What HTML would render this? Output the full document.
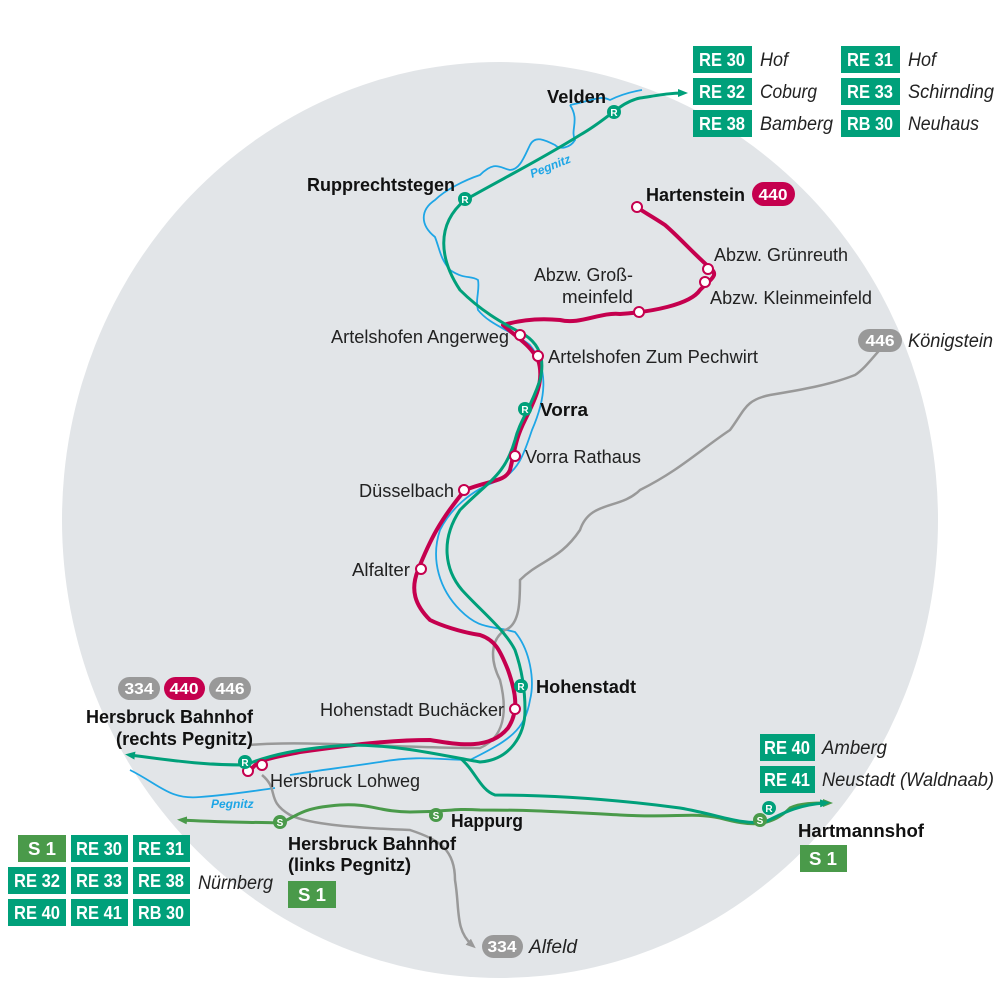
<!DOCTYPE html>
<html><head><meta charset="utf-8"><style>
html,body{margin:0;padding:0;background:#fff;}
svg{display:block;font-family:"Liberation Sans",sans-serif;}
.b{font-weight:bold;font-size:18px;fill:#111;}
.n{font-size:18px;fill:#222;}
.i{font-style:italic;font-size:19px;fill:#222;}
.bx{font-weight:bold;font-size:18px;fill:#fff;}
</style></head><body>
<svg width="1000" height="1000" viewBox="0 0 1000 1000">
<defs>
<marker id="at" markerWidth="10" markerHeight="8" refX="5" refY="4" orient="auto" markerUnits="userSpaceOnUse"><path d="M0,0 L10,4 L0,8z" fill="#00a07a"/></marker>
<marker id="ag" markerWidth="10" markerHeight="8" refX="5" refY="4" orient="auto" markerUnits="userSpaceOnUse"><path d="M0,0 L10,4 L0,8z" fill="#999"/></marker>
<marker id="as" markerWidth="10" markerHeight="8" refX="5" refY="4" orient="auto" markerUnits="userSpaceOnUse"><path d="M0,0 L10,4 L0,8z" fill="#4a9a4a"/></marker>
</defs>
<ellipse cx="500" cy="520" rx="438" ry="458" fill="#e2e5e8"/>
<!-- river -->
<g fill="none" stroke="#1ea6e6" stroke-width="1.8">
<path d="M570,105 C580,120 570,130 575,140 C570,148 560,150 555,145 C545,140 535,135 530,145 C525,155 520,170 510,170 C500,168 495,160 480,175 C465,180 445,190 435,200 C420,210 420,225 435,237 C440,250 440,258 450,270 C465,280 470,275 478,280 C480,290 475,300 478,310 C490,325 510,330 530,345 C550,370 545,400 532,430 C525,450 520,470 500,480 C470,490 450,510 440,530 C430,560 440,590 460,610 C480,630 490,625 515,632 C530,650 535,680 530,700 C525,730 510,740 470,760 C440,760 420,755 380,762 C340,768 320,770 290,775"/>
<path d="M130,770 C160,785 170,800 200,797 C230,795 260,790 275,788"/>
<path d="M570,105 C595,100 600,95 610,100 C620,95 630,92 642,90"/>
</g>
<!-- grey 446 and 334 -->
<g fill="none" stroke="#999" stroke-width="2.5">
<path d="M250,745 C300,740 400,748 480,748 C510,735 505,700 500,680 C490,660 490,640 505,630 C520,625 520,600 520,580 C540,560 560,560 580,530 C590,500 620,510 640,490 C680,470 700,450 730,430 C745,410 745,400 770,395 C800,390 830,385 855,375 C870,365 880,345 895,337" marker-end="url(#ag)"/>
<path d="M262,775 C280,790 265,800 290,815 C310,825 360,828 410,830 C440,840 455,850 455,880 C460,910 455,930 472,945" marker-end="url(#ag)"/>
</g>
<!-- S-Bahn -->
<path d="M280,823 C240,822 210,822 182,820" fill="none" stroke="#4a9a4a" stroke-width="3" marker-end="url(#as)"/>
<path d="M280,823 C300,815 300,808 340,805 C370,803 380,812 410,812 C450,812 450,808 480,810 C540,810 560,812 620,815 C680,818 690,812 720,818 C750,826 770,828 790,808 C800,803 815,803 828,803" fill="none" stroke="#4a9a4a" stroke-width="3" marker-end="url(#as)"/>
<!-- crimson -->
<g fill="none" stroke="#c5004e" stroke-width="4" stroke-linejoin="round">
<path d="M250,772 C255,760 270,758 300,752 C350,745 390,740 430,740 C460,745 490,750 508,728 C520,710 515,690 508,670 C500,650 495,640 480,635 C460,632 440,625 430,620 C415,605 410,590 418,570 C430,540 440,520 465,490 C490,480 505,482 510,470 C515,450 515,440 525,420 C535,400 545,380 538,360 C530,345 520,340 503,325 C520,320 540,318 560,320 C580,325 600,312 620,314 C650,312 690,305 700,290 C710,280 720,275 710,268 C690,250 680,238 665,225 C650,215 640,210 637,207"/>
</g>
<!-- teal -->
<g fill="none" stroke="#00a07a" stroke-width="3">
<path d="M245,765 C200,765 170,760 130,755" marker-end="url(#at)"/>
<path d="M245,765 C270,755 300,748 350,745 C400,745 440,755 480,762 C510,760 525,735 525,710 C525,690 522,670 515,650 C505,630 480,610 462,590 C445,570 440,540 460,510 C490,480 505,475 515,440 C520,420 530,410 540,380 C545,360 540,345 525,335 C500,322 480,310 460,290 C440,260 435,225 465,200 C500,180 540,160 580,135 C610,118 620,102 640,98 C660,95 670,93 683,93" marker-end="url(#at)"/>
<path d="M460,758 C475,770 480,790 495,795 C560,795 620,800 680,808 C720,815 740,825 765,822 C780,815 795,805 825,803" marker-end="url(#at)"/>
</g>
<!-- stops -->
<g fill="#fff" stroke="#c5004e" stroke-width="2">
<circle cx="637" cy="207" r="5"/><circle cx="708" cy="269" r="5"/><circle cx="705" cy="282" r="5"/>
<circle cx="639" cy="312" r="5"/><circle cx="538" cy="356" r="5"/><circle cx="515" cy="456" r="5"/>
<circle cx="464" cy="490" r="5"/><circle cx="421" cy="569" r="5"/><circle cx="515" cy="709" r="5"/>
<circle cx="262" cy="765" r="5"/><circle cx="248" cy="771" r="5"/><circle cx="520" cy="335" r="5"/>
</g>
<g font-weight="bold" font-size="10" text-anchor="middle">
<g fill="#00a07a"><circle cx="614" cy="112" r="7"/><circle cx="465" cy="199" r="7"/><circle cx="525" cy="409" r="7"/><circle cx="521" cy="686" r="7"/><circle cx="245" cy="762" r="7"/><circle cx="769" cy="808" r="7"/></g>
<g fill="#fff"><text x="614" y="116">R</text><text x="465" y="203">R</text><text x="525" y="413">R</text><text x="521" y="690">R</text><text x="245" y="766">R</text><text x="769" y="812">R</text></g>
<g fill="#4a9a4a"><circle cx="280" cy="822" r="7"/><circle cx="436" cy="815" r="7"/><circle cx="760" cy="820" r="7"/></g>
<g fill="#fff"><text x="280" y="826">S</text><text x="436" y="819">S</text><text x="760" y="824">S</text></g>
</g>
<!-- labels -->
<g lengthAdjust="spacingAndGlyphs">
<text class="b" x="547" y="103" textLength="59" lengthAdjust="spacingAndGlyphs">Velden</text>
<text x="532" y="178" font-size="12" font-style="italic" font-weight="bold" fill="#1ea6e6" transform="rotate(-22 532 178)">Pegnitz</text>
<text class="b" x="307" y="191" textLength="148" lengthAdjust="spacingAndGlyphs">Rupprechtstegen</text>
<text class="b" x="646" y="201" textLength="99" lengthAdjust="spacingAndGlyphs">Hartenstein</text>
<text class="n" x="714" y="261" textLength="134" lengthAdjust="spacingAndGlyphs">Abzw. Grünreuth</text>
<text class="n" x="710" y="304" textLength="162" lengthAdjust="spacingAndGlyphs">Abzw. Kleinmeinfeld</text>
<text class="n" x="534" y="281" textLength="99" lengthAdjust="spacingAndGlyphs">Abzw. Groß-</text>
<text class="n" x="562" y="303" textLength="71" lengthAdjust="spacingAndGlyphs">meinfeld</text>
<text class="n" x="331" y="343" textLength="178" lengthAdjust="spacingAndGlyphs">Artelshofen Angerweg</text>
<text class="n" x="548" y="363" textLength="210" lengthAdjust="spacingAndGlyphs">Artelshofen Zum Pechwirt</text>
<text class="b" x="540" y="416" textLength="48" lengthAdjust="spacingAndGlyphs">Vorra</text>
<text class="n" x="525" y="463" textLength="116" lengthAdjust="spacingAndGlyphs">Vorra Rathaus</text>
<text class="n" x="359" y="497" textLength="95" lengthAdjust="spacingAndGlyphs">Düsselbach</text>
<text class="n" x="352" y="576" textLength="58" lengthAdjust="spacingAndGlyphs">Alfalter</text>
<text class="b" x="536" y="693" textLength="100" lengthAdjust="spacingAndGlyphs">Hohenstadt</text>
<text class="n" x="320" y="716" textLength="184" lengthAdjust="spacingAndGlyphs">Hohenstadt Buchäcker</text>
<text class="b" x="86" y="723" textLength="167" lengthAdjust="spacingAndGlyphs">Hersbruck Bahnhof</text>
<text class="b" x="116" y="745" textLength="137" lengthAdjust="spacingAndGlyphs">(rechts Pegnitz)</text>
<text class="n" x="270" y="787" textLength="150" lengthAdjust="spacingAndGlyphs">Hersbruck Lohweg</text>
<text x="211" y="808" font-size="12" font-style="italic" font-weight="bold" fill="#1ea6e6">Pegnitz</text>
<text class="b" x="451" y="827" textLength="72" lengthAdjust="spacingAndGlyphs">Happurg</text>
<text class="b" x="288" y="850" textLength="168" lengthAdjust="spacingAndGlyphs">Hersbruck Bahnhof</text>
<text class="b" x="288" y="871" textLength="123" lengthAdjust="spacingAndGlyphs">(links Pegnitz)</text>
<text class="b" x="798" y="837" textLength="126" lengthAdjust="spacingAndGlyphs">Hartmannshof</text>
</g>
<!-- badges -->
<g font-weight="bold" font-size="16" text-anchor="middle" fill="#fff">
<rect x="752" y="182" width="43" height="24" rx="12" fill="#c5004e"/><text x="773" y="200" textLength="29" lengthAdjust="spacingAndGlyphs">440</text>
<rect x="858" y="329" width="44" height="23" rx="11.5" fill="#999"/><text x="880" y="346" textLength="29" lengthAdjust="spacingAndGlyphs">446</text>
<rect x="118" y="677" width="42" height="23" rx="11.5" fill="#999"/><text x="139" y="694" textLength="29" lengthAdjust="spacingAndGlyphs">334</text>
<rect x="164" y="677" width="41" height="23" rx="11.5" fill="#c5004e"/><text x="184" y="694" textLength="29" lengthAdjust="spacingAndGlyphs">440</text>
<rect x="209" y="677" width="42" height="23" rx="11.5" fill="#999"/><text x="230" y="694" textLength="29" lengthAdjust="spacingAndGlyphs">446</text>
<rect x="482" y="935" width="41" height="23" rx="11.5" fill="#999"/><text x="502" y="952" textLength="29" lengthAdjust="spacingAndGlyphs">334</text>
</g>
<text class="i" x="908" y="347" textLength="85" lengthAdjust="spacingAndGlyphs">Königstein</text>
<text class="i" x="529" y="953" textLength="48" lengthAdjust="spacingAndGlyphs">Alfeld</text>
<!-- line boxes -->
<g fill="#00a07a">
<rect x="693" y="46" width="59" height="27"/><rect x="693" y="78" width="59" height="27"/><rect x="693" y="110" width="59" height="27"/>
<rect x="841" y="46" width="59" height="27"/><rect x="841" y="78" width="59" height="27"/><rect x="841" y="110" width="59" height="27"/>
<rect x="760" y="734" width="55" height="27"/><rect x="760" y="766" width="55" height="27"/>
<rect x="71" y="835" width="57" height="27"/><rect x="133" y="835" width="57" height="27"/>
<rect x="8" y="867" width="58" height="27"/><rect x="71" y="867" width="57" height="27"/><rect x="133" y="867" width="57" height="27"/>
<rect x="8" y="899" width="58" height="27"/><rect x="71" y="899" width="57" height="27"/><rect x="133" y="899" width="57" height="27"/>
</g>
<g fill="#4a9a4a">
<rect x="800" y="845" width="47" height="27"/><rect x="288" y="881" width="48" height="27"/><rect x="18" y="835" width="48" height="27"/>
</g>
<g class="bx" text-anchor="middle" font-weight="bold" font-size="18" fill="#fff">
<text x="722" y="66" textLength="46" lengthAdjust="spacingAndGlyphs">RE 30</text>
<text x="722" y="98" textLength="46" lengthAdjust="spacingAndGlyphs">RE 32</text>
<text x="722" y="130" textLength="46" lengthAdjust="spacingAndGlyphs">RE 38</text>
<text x="870" y="66" textLength="46" lengthAdjust="spacingAndGlyphs">RE 31</text>
<text x="870" y="98" textLength="46" lengthAdjust="spacingAndGlyphs">RE 33</text>
<text x="870" y="130" textLength="46" lengthAdjust="spacingAndGlyphs">RB 30</text>
<text x="787" y="754" textLength="46" lengthAdjust="spacingAndGlyphs">RE 40</text>
<text x="787" y="786" textLength="46" lengthAdjust="spacingAndGlyphs">RE 41</text>
<text x="823" y="865" textLength="28" lengthAdjust="spacingAndGlyphs">S 1</text>
<text x="312" y="901" textLength="28" lengthAdjust="spacingAndGlyphs">S 1</text>
<text x="42" y="855" textLength="28" lengthAdjust="spacingAndGlyphs">S 1</text>
<text x="99" y="855" textLength="46" lengthAdjust="spacingAndGlyphs">RE 30</text>
<text x="161" y="855" textLength="46" lengthAdjust="spacingAndGlyphs">RE 31</text>
<text x="37" y="887" textLength="46" lengthAdjust="spacingAndGlyphs">RE 32</text>
<text x="99" y="887" textLength="46" lengthAdjust="spacingAndGlyphs">RE 33</text>
<text x="161" y="887" textLength="46" lengthAdjust="spacingAndGlyphs">RE 38</text>
<text x="37" y="919" textLength="46" lengthAdjust="spacingAndGlyphs">RE 40</text>
<text x="99" y="919" textLength="46" lengthAdjust="spacingAndGlyphs">RE 41</text>
<text x="161" y="919" textLength="46" lengthAdjust="spacingAndGlyphs">RB 30</text>
</g>
<text class="i" x="760" y="66" textLength="28" lengthAdjust="spacingAndGlyphs">Hof</text>
<text class="i" x="760" y="98" textLength="57" lengthAdjust="spacingAndGlyphs">Coburg</text>
<text class="i" x="760" y="130" textLength="73" lengthAdjust="spacingAndGlyphs">Bamberg</text>
<text class="i" x="908" y="66" textLength="28" lengthAdjust="spacingAndGlyphs">Hof</text>
<text class="i" x="908" y="98" textLength="86" lengthAdjust="spacingAndGlyphs">Schirnding</text>
<text class="i" x="908" y="130" textLength="71" lengthAdjust="spacingAndGlyphs">Neuhaus</text>
<text class="i" x="822" y="754" textLength="65" lengthAdjust="spacingAndGlyphs">Amberg</text>
<text class="i" x="822" y="786" textLength="172" lengthAdjust="spacingAndGlyphs">Neustadt (Waldnaab)</text>
<text class="i" x="198" y="889" textLength="75" lengthAdjust="spacingAndGlyphs">Nürnberg</text>
</svg>
</body></html>
